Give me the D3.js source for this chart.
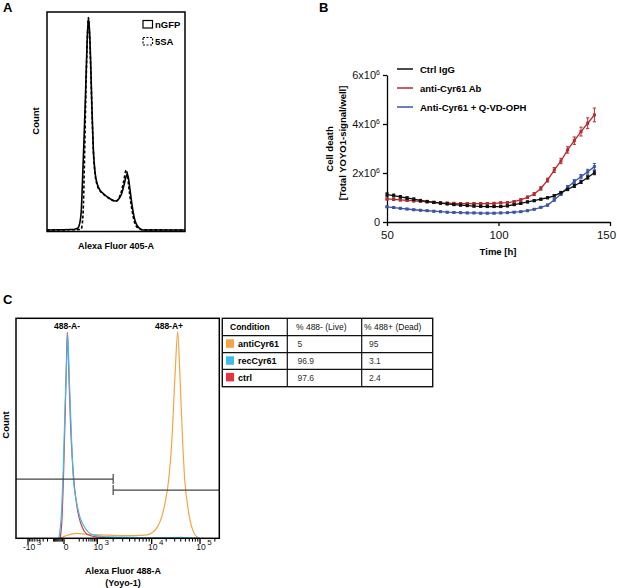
<!DOCTYPE html>
<html>
<head>
<meta charset="utf-8">
<script src="https://cdn.jsdelivr.net/npm/d3@7"></script>
<style>
  body { margin: 0; background: #fff; }
  svg { font-family: "Liberation Sans", Arial, sans-serif; }
</style>
</head>
<body>
<svg id="fig" width="617" height="588"></svg>
<script>
// ---------- panel A : DNA content histograms (arbitrary channel, count)
const nGFPx = [0, 24, 42, 52, 56, 59, 62, 64, 67, 70, 72.5, 75, 77, 79, 81.5, 84, 87, 91, 96, 103, 110, 118, 125, 130, 135, 139.5, 143, 145.5, 147.5, 150.5, 154, 157.5, 161, 167, 174, 250]
const nGFPcount = [0, 1, 2, 5, 9, 28, 83, 206, 413, 642, 849, 972, 917, 780, 550, 367, 266, 211, 183, 165, 151, 138, 133, 142, 165, 206, 243, 257, 239, 183, 115, 64, 32, 9, 0, 0]
const saX = [0, 40, 58, 62, 64, 66, 68, 70, 72.5, 75, 77, 79, 81.5, 84, 87, 91, 96, 103, 110, 118, 125, 130, 134.5, 139, 143.5, 146, 148, 150.5, 154, 157.5, 161, 167, 174, 250]
const saCount = [0, 1, 2, 5, 30, 120, 330, 580, 830, 975, 900, 760, 540, 360, 258, 205, 180, 162, 149, 136, 132, 145, 175, 225, 275, 250, 200, 150, 90, 45, 20, 6, 1, 0]

// ---------- panel B : cell death over time (x10^6)
const times = [50, 53, 56, 59, 62, 65, 68, 71, 74, 77, 80, 83, 86, 89, 92, 95, 98, 101, 104, 107, 110, 113, 116, 119, 122, 125, 128, 131, 134, 137, 140, 143]
const ctrlIgG = [1.12, 1.08, 1.03, 0.98, 0.93, 0.88, 0.84, 0.80, 0.77, 0.74, 0.71, 0.69, 0.67, 0.65, 0.64, 0.63, 0.63, 0.63, 0.66, 0.71, 0.76, 0.82, 0.87, 0.93, 0.99, 1.07, 1.20, 1.33, 1.47, 1.63, 1.82, 2.01]
const ctrlIgGErr = [0.07, 0.06, 0.05, 0.05, 0.05, 0.04, 0.04, 0.04, 0.04, 0.04, 0.04, 0.04, 0.04, 0.04, 0.04, 0.04, 0.04, 0.04, 0.04, 0.04, 0.04, 0.04, 0.04, 0.04, 0.04, 0.05, 0.05, 0.05, 0.06, 0.06, 0.07, 0.08]
const antiAb = [0.94, 0.92, 0.90, 0.88, 0.86, 0.84, 0.82, 0.80, 0.78, 0.77, 0.76, 0.75, 0.75, 0.75, 0.75, 0.75, 0.76, 0.78, 0.79, 0.83, 0.90, 1.01, 1.14, 1.37, 1.71, 2.12, 2.49, 2.94, 3.32, 3.69, 4.03, 4.37]
const antiAbErr = [0.04, 0.04, 0.04, 0.04, 0.04, 0.04, 0.04, 0.04, 0.04, 0.04, 0.04, 0.04, 0.04, 0.04, 0.04, 0.04, 0.04, 0.04, 0.04, 0.04, 0.05, 0.05, 0.06, 0.07, 0.08, 0.10, 0.11, 0.13, 0.15, 0.18, 0.22, 0.28]
const antiQVD = [0.62, 0.59, 0.56, 0.53, 0.50, 0.48, 0.46, 0.44, 0.42, 0.40, 0.39, 0.38, 0.37, 0.37, 0.36, 0.36, 0.36, 0.37, 0.38, 0.40, 0.42, 0.46, 0.52, 0.60, 0.69, 0.90, 1.14, 1.42, 1.65, 1.85, 2.05, 2.26]
const antiQVDErr = [0.03, 0.03, 0.03, 0.03, 0.03, 0.03, 0.03, 0.03, 0.03, 0.03, 0.03, 0.03, 0.03, 0.03, 0.03, 0.03, 0.03, 0.03, 0.03, 0.03, 0.03, 0.03, 0.03, 0.03, 0.04, 0.05, 0.06, 0.07, 0.08, 0.09, 0.10, 0.13]
const seriesNames = ['Ctrl IgG', 'anti-Cyr61 Ab', 'Anti-Cyr61 + Q-VD-OPH']
const yTicksB = [0, 2, 4, 6]
const xTicksB = [50, 100, 150]

// ---------- panel C : Yoyo-1 flow histograms (fluorescence, count)
const antiX = [-25, 8, 150, 400, 1130, 2000, 4000, 6000, 8100, 10000, 12700, 16100, 18900, 22100, 26000, 30400, 34600, 38600, 43900, 49000, 54600, 62100, 72700, 92000]
const antiCount = [0, 9, 21, 17, 14, 12, 11, 12, 14, 23, 45, 95, 159, 250, 432, 733, 938, 733, 432, 250, 159, 82, 29, 0]
const recX = [-40, -17, -5, 7, 21, 30, 46, 74, 95, 150, 216, 301, 475, 724, 1127, 1510, 2670, 6170, 15000, 40000, 60000, 100000]
const recCount = [0, 127, 309, 582, 809, 927, 732, 432, 277, 159, 95, 59, 27, 14, 9, 5, 4, 2, 1, 3, 1, 0]
const ctrlX = [-30, -15, -3, 10, 20, 27, 33, 45, 60, 80, 110, 150, 200, 280, 400, 600, 900, 1500, 3000, 6000, 20000]
const ctrlCount = [0, 80, 290, 590, 820, 935, 880, 700, 520, 370, 240, 150, 90, 45, 20, 10, 5, 3, 2, 1, 0]
const gateSplit = 2000
const majorTicksC = [-1000, 0, 1000, 10000, 100000]
const majorLabelsC = [['-10', '3'], ['0', ''], ['10', '3'], ['10', '4'], ['10', '5']]

// table
const conditions = ['antiCyr61', 'recCyr61', 'ctrl']
const liveVals = ['5', '96.9', '97.6']
const deadVals = ['95', '3.1', '2.4']
const tableHeader = ['Condition', '% 488- (Live)', '% 488+ (Dead)']

const svg = d3.select('#fig')
const bold = t => t.attr('font-weight', 'bold')

// ================= A
const ax = d3.scaleLinear().domain([0, 250]).range([47, 185])
const ay = d3.scaleLinear().domain([0, 1000]).range([230, 12])
const lineA = d3.line().x(d => ax(d[0])).y(d => ay(d[1])).curve(d3.curveMonotoneX)
const gA = svg.append('g')

gA.append('path').datum(d3.zip(saX, saCount)).attr('d', lineA)
  .attr('fill', 'none').attr('stroke', '#000').attr('stroke-width', 1.6).attr('stroke-dasharray', '3,2')
gA.append('path').datum(d3.zip(nGFPx, nGFPcount)).attr('d', lineA)
  .attr('fill', 'none').attr('stroke', '#000').attr('stroke-width', 1.6)
gA.append('rect').attr('x', 47).attr('y', 12).attr('width', 138).attr('height', 219.5)
  .attr('fill', 'none').attr('stroke', '#000').attr('stroke-width', 1.5)

// legend A
gA.append('rect').attr('x', 143).attr('y', 20.5).attr('width', 9.5).attr('height', 7.5)
  .attr('fill', 'none').attr('stroke', '#000').attr('stroke-width', 1.2)
gA.append('rect').attr('x', 143).attr('y', 37.5).attr('width', 9.5).attr('height', 7.5)
  .attr('fill', 'none').attr('stroke', '#000').attr('stroke-width', 1.2).attr('stroke-dasharray', '2,1.5')
bold(gA.append('text').attr('x', 155).attr('y', 27.5).attr('font-size', 9.5).text('nGFP'))
bold(gA.append('text').attr('x', 155).attr('y', 44.5).attr('font-size', 9.5).text('5SA'))

bold(gA.append('text').attr('transform', 'translate(39,121) rotate(-90)').attr('text-anchor', 'middle')
  .attr('font-size', 9.5).text('Count'))
bold(gA.append('text').attr('x', 116).attr('y', 249).attr('text-anchor', 'middle')
  .attr('font-size', 9).text('Alexa Fluor 405-A'))
bold(svg.append('text').attr('x', 3).attr('y', 12).attr('font-size', 13).text('A'))

// ================= B
const bx = d3.scaleLinear().domain([50, 150]).range([387, 610])
const by = d3.scaleLinear().domain([0, 6]).range([222, 75])
const gB = svg.append('g')

const yAxisB = gB.append('g').attr('transform', 'translate(387,0)')
  .call(d3.axisLeft(by).tickValues(yTicksB).tickSize(4).tickSizeOuter(0))
yAxisB.selectAll('path, line').attr('stroke', '#000').attr('stroke-width', 1.3)
yAxisB.selectAll('.tick text').attr('font-family', null).attr('font-size', 11).attr('fill', '#111')
  .each(function (d) {
    const t = d3.select(this).text('')
    if (d === 0) { t.text('0'); return }
    t.append('tspan').text(d + 'x10')
    t.append('tspan').attr('font-size', 7).attr('dy', -4).text('6')
  })

const xAxisB = gB.append('g').attr('transform', 'translate(0,222)')
  .call(d3.axisBottom(bx).tickValues(xTicksB).tickSize(4).tickSizeOuter(0))
xAxisB.selectAll('path, line').attr('stroke', '#000').attr('stroke-width', 1.3)
xAxisB.selectAll('.tick text').attr('font-family', null).attr('font-size', 11.5).attr('fill', '#111').attr('dy', '0.85em')
  .attr('dx', d => d === 150 ? -4 : 0)

const seriesB = [
  { name: seriesNames[0], vals: ctrlIgG, err: ctrlIgGErr, color: '#111111' },
  { name: seriesNames[1], vals: antiAb, err: antiAbErr, color: '#B5282F' },
  { name: seriesNames[2], vals: antiQVD, err: antiQVDErr, color: '#3A55A4' }
]
const lineB = d3.line().x(d => bx(d.t)).y(d => by(d.v))

// draw order: blue, red, black on top
;[seriesB[2], seriesB[1], seriesB[0]].forEach(s => {
  const pts = times.map((t, i) => ({ t, v: s.vals[i], e: s.err[i] }))
  const g = gB.append('g')
  g.append('path').datum(pts).attr('d', lineB).attr('fill', 'none')
    .attr('stroke', s.color).attr('stroke-width', 1.3)
  const eb = g.selectAll('.eb').data(pts).enter().append('g')
  eb.append('line').attr('x1', d => bx(d.t)).attr('x2', d => bx(d.t))
    .attr('y1', d => by(d.v - d.e)).attr('y2', d => by(d.v + d.e)).attr('stroke', s.color).attr('stroke-width', 1)
  eb.append('line').attr('x1', d => bx(d.t) - 1.6).attr('x2', d => bx(d.t) + 1.6)
    .attr('y1', d => by(d.v + d.e)).attr('y2', d => by(d.v + d.e)).attr('stroke', s.color).attr('stroke-width', 1)
  eb.append('line').attr('x1', d => bx(d.t) - 1.6).attr('x2', d => bx(d.t) + 1.6)
    .attr('y1', d => by(d.v - d.e)).attr('y2', d => by(d.v - d.e)).attr('stroke', s.color).attr('stroke-width', 1)
  eb.append('rect').attr('x', d => bx(d.t) - 1.5).attr('y', d => by(d.v) - 1.5)
    .attr('width', 3).attr('height', 3).attr('fill', s.color)
})

// legend B
seriesB.forEach((s, i) => {
  const y = 69 + i * 19
  gB.append('line').attr('x1', 397).attr('x2', 413).attr('y1', y).attr('y2', y)
    .attr('stroke', s.color).attr('stroke-width', 1.5)
  bold(gB.append('text').attr('x', 420).attr('y', y + 3.5).attr('font-size', 9.5).text(s.name))
})

bold(gB.append('text').attr('transform', 'translate(333,149) rotate(-90)').attr('text-anchor', 'middle')
  .attr('font-size', 9.5).text('Cell death'))
bold(gB.append('text').attr('transform', 'translate(346,143) rotate(-90)').attr('text-anchor', 'middle')
  .attr('font-size', 9.5).text('[Total YOYO1-signal/well]'))
bold(gB.append('text').attr('x', 498).attr('y', 255).attr('text-anchor', 'middle')
  .attr('font-size', 9.5).text('Time [h]'))
bold(svg.append('text').attr('x', 319).attr('y', 12).attr('font-size', 13).text('B'))

// ================= C
const C0 = 100
const lg = v => Math.sign(v) * Math.log10(1 + Math.abs(v) / C0)
const cxPoly = d3.scaleLinear()
  .domain([-2580, -1000, 0, 1000, 10000, 100000, 246000].map(lg))
  .range([16, 28, 64, 97.3, 151.7, 200, 219.3])
const cx = v => cxPoly(lg(v))
const cy = d3.scaleLinear().domain([0, 1000]).range([538, 318])
const lineC = d3.line().x(d => cx(d[0])).y(d => cy(d[1])).curve(d3.curveMonotoneX)
const gC = svg.append('g')

const histC = [
  { x: antiX, c: antiCount, color: '#F5A445' },
  { x: recX, c: recCount, color: '#3DBCEA' },
  { x: ctrlX, c: ctrlCount, color: '#E5343F' },
]
// orange at back, then red, cyan on top
;[histC[0], histC[2], histC[1]].forEach(h => {
  gC.append('path').datum(d3.zip(h.x, h.c)).attr('d', lineC)
    .attr('fill', 'none').attr('stroke', h.color).attr('stroke-width', 1.2)
})

// gates
const gateL = cy(268), gateR = cy(218)
gC.append('line').attr('x1', 16).attr('x2', cx(gateSplit)).attr('y1', gateL).attr('y2', gateL)
  .attr('stroke', '#444').attr('stroke-width', 1.2)
gC.append('line').attr('x1', cx(gateSplit)).attr('x2', cx(gateSplit)).attr('y1', gateL - 5).attr('y2', gateL + 5)
  .attr('stroke', '#444').attr('stroke-width', 1.2)
gC.append('line').attr('x1', cx(gateSplit)).attr('x2', 219.3).attr('y1', gateR).attr('y2', gateR)
  .attr('stroke', '#444').attr('stroke-width', 1.2)
gC.append('line').attr('x1', cx(gateSplit)).attr('x2', cx(gateSplit)).attr('y1', gateR - 5).attr('y2', gateR + 5)
  .attr('stroke', '#444').attr('stroke-width', 1.2)

gC.append('rect').attr('x', 16).attr('y', 318.3).attr('width', 203.3).attr('height', 220)
  .attr('fill', 'none').attr('stroke', '#000').attr('stroke-width', 1.5)

// axis ticks
const minorC = [].concat(
  d3.range(-900, -99, 100), d3.range(-90, 0, 10),
  d3.range(200, 901, 100), d3.range(2000, 9001, 1000), d3.range(20000, 90001, 10000), [200000])
gC.selectAll('.minor').data(minorC).enter().append('line')
  .attr('x1', d => cx(d)).attr('x2', d => cx(d)).attr('y1', 538.3).attr('y2', 541.6)
  .attr('stroke', '#000').attr('stroke-width', 1)
gC.selectAll('.major').data(majorTicksC).enter().append('line')
  .attr('x1', d => cx(d)).attr('x2', d => cx(d)).attr('y1', 538.3).attr('y2', 544)
  .attr('stroke', '#000').attr('stroke-width', 1.3)
const lbl = gC.selectAll('.mlab').data(majorTicksC).enter().append('text')
  .attr('x', (d, i) => cx(d) + (i === 1 ? 2 : 4)).attr('y', 550).attr('text-anchor', 'middle')
  .attr('font-size', 8.5).attr('fill', '#111')
lbl.append('tspan').text((d, i) => majorLabelsC[i][0])
lbl.append('tspan').attr('dy', -5).attr('dx', 1.5).attr('font-size', 8).text((d, i) => majorLabelsC[i][1])

bold(gC.append('text').attr('x', 67).attr('y', 329).attr('text-anchor', 'middle').attr('font-size', 8.5).text('488-A-'))
bold(gC.append('text').attr('x', 169).attr('y', 329).attr('text-anchor', 'middle').attr('font-size', 8.5).text('488-A+'))
bold(gC.append('text').attr('transform', 'translate(9,425) rotate(-90)').attr('text-anchor', 'middle')
  .attr('font-size', 9.5).text('Count'))
bold(gC.append('text').attr('x', 123).attr('y', 574).attr('text-anchor', 'middle').attr('font-size', 9).text('Alexa Fluor 488-A'))
bold(gC.append('text').attr('x', 123).attr('y', 586).attr('text-anchor', 'middle').attr('font-size', 9).text('(Yoyo-1)'))
bold(svg.append('text').attr('x', 3).attr('y', 304).attr('font-size', 13).text('C'))

// table
const colX = [222.3, 287.3, 361.7, 432.7]
const rowY = [318.3, 335.7, 352.7, 369.3, 386.7]
const gT = svg.append('g')
colX.slice(1, 3).forEach(x => gT.append('line').attr('x1', x).attr('x2', x).attr('y1', rowY[0]).attr('y2', rowY[4])
  .attr('stroke', '#111').attr('stroke-width', 1.2))
rowY.slice(1, 4).forEach(y => gT.append('line').attr('x1', colX[0]).attr('x2', colX[3]).attr('y1', y).attr('y2', y)
  .attr('stroke', '#111').attr('stroke-width', 1.2))
gT.append('rect').attr('x', colX[0]).attr('y', rowY[0]).attr('width', colX[3] - colX[0]).attr('height', rowY[4] - rowY[0])
  .attr('fill', 'none').attr('stroke', '#111').attr('stroke-width', 1.4)

bold(gT.append('text').attr('x', 230).attr('y', rowY[0] + 12).attr('font-size', 8.5).text(tableHeader[0]))
gT.append('text').attr('x', 296).attr('y', rowY[0] + 12).attr('font-size', 8.5).attr('fill', '#111').text(tableHeader[1])
gT.append('text').attr('x', 364).attr('y', rowY[0] + 12).attr('font-size', 8.5).attr('fill', '#111').text(tableHeader[2])

conditions.forEach((c, i) => {
  const top = rowY[i + 1]
  gT.append('rect').attr('x', 226).attr('y', top + 3.6).attr('width', 8).attr('height', 8.5).attr('fill', histC[i].color)
  bold(gT.append('text').attr('x', 238).attr('y', top + 11.5).attr('font-size', 9).text(c))
  gT.append('text').attr('x', 297.5).attr('y', top + 11.5).attr('font-size', 8.5).attr('fill', '#333').text(liveVals[i])
  gT.append('text').attr('x', 369).attr('y', top + 11.5).attr('font-size', 8.5).attr('fill', '#333').text(deadVals[i])
})
</script>
</body>
</html>
